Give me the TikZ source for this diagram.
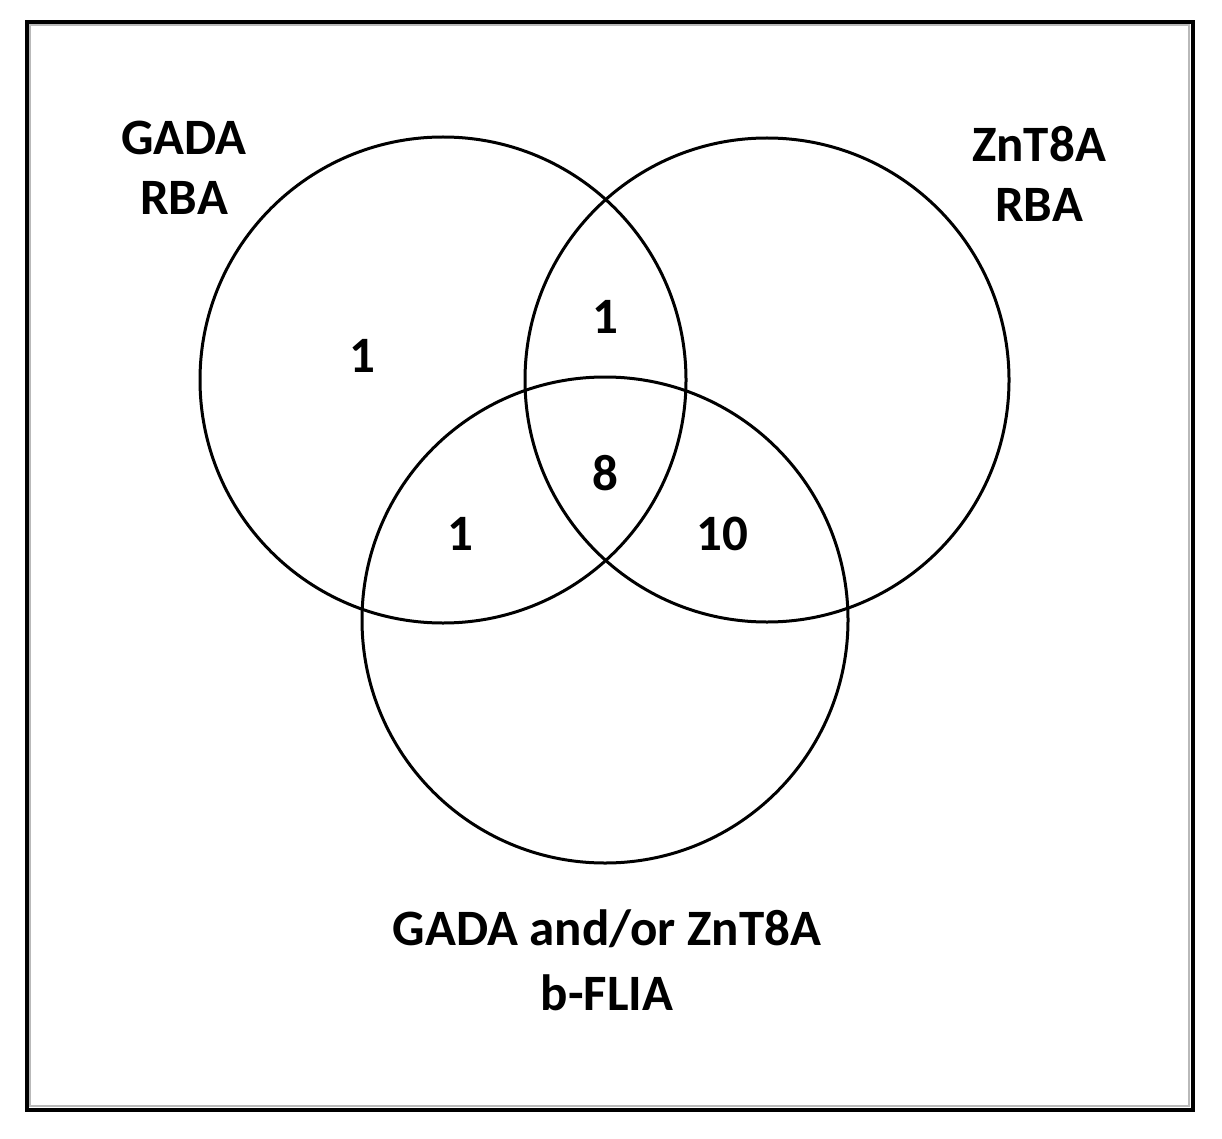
\documentclass[tikz,border=0pt]{standalone}
\usepackage{fontspec}
\setmainfont{Carlito}
\usepackage{tikz}

\begin{document}
\begin{tikzpicture}[x=1pt,y=-1pt,
        lbl/.style={font=\fontsize{51}{60}\selectfont\bfseries, align=center, anchor=base, inner sep=0pt},
        num/.style={font=\fontsize{51}{60}\selectfont\bfseries, anchor=base, inner sep=0pt},
        ring/.style={line width=3pt}]%px座標
                \useasboundingbox (0,0) rectangle (1222,1139);
                \draw[line width=4pt] (27,22) rectangle (1192.5,1109.5);%枠
                \draw[line width=2pt, gray!55] (30,25) rectangle (1188.5,1106);
                \draw[ring] (443,380) circle[radius=243];%GADA RBA
                \draw[ring] (767,380) circle[radius=242];%ZnT8A RBA
                \draw[ring] (605,620) circle[radius=243];%b-FLIA
                \node[lbl] (gadaL) at (184,215) {GADA\\RBA};
                \node[lbl] (zntL) at (1039,222) {ZnT8A\\RBA};
                \node[lbl, font=\fontsize{51}{65}\selectfont\bfseries] (bfliaL) at (607,1010) {GADA and/or ZnT8A\\b-FLIA};
                \node[num] (nA) at (362,372) {1};
                \node[num] (nAB) at (605,333) {1};
                \node[num] (nABC) at (605,490) {8};
                \node[num] (nAC) at (460,550) {1};
                \node[num] (nBC) at (722,550) {10};
            \end{tikzpicture}
\end{document}
